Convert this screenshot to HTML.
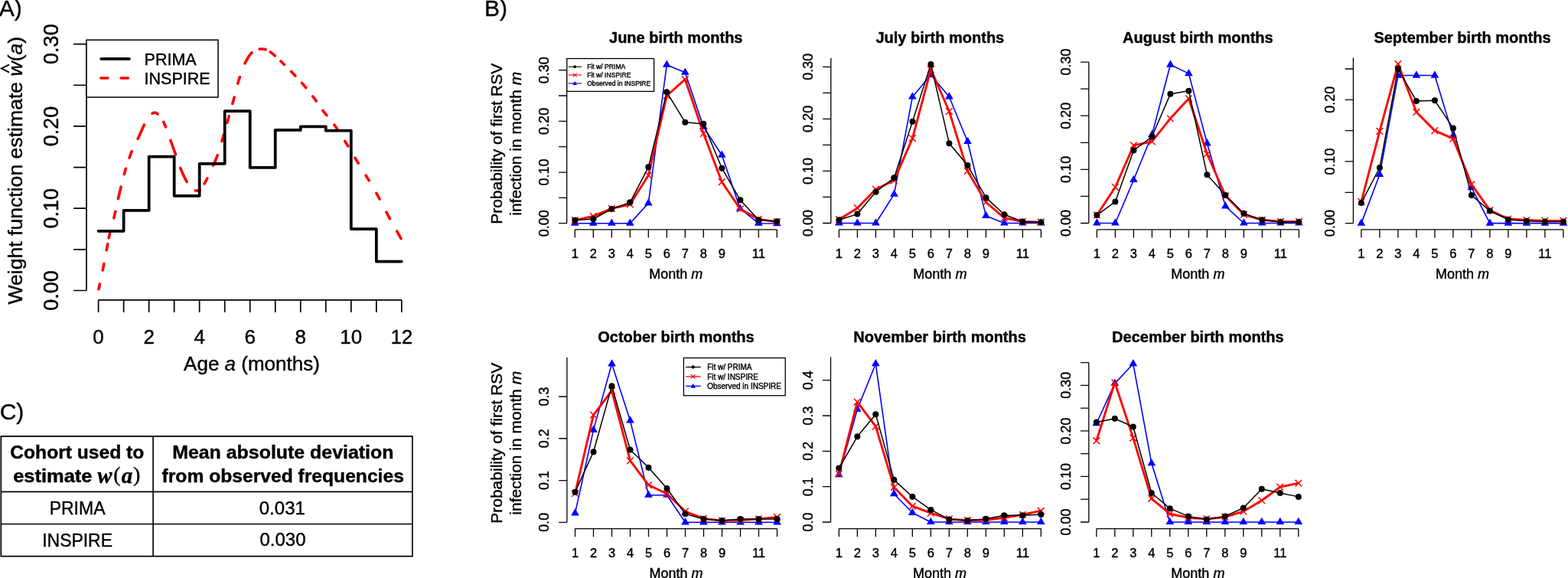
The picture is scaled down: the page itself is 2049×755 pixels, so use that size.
<!DOCTYPE html>
<html><head><meta charset="utf-8"><title>Figure</title>
<style>html,body{margin:0;padding:0;background:#fff;overflow:hidden}svg{display:block}text{font-family:"Liberation Sans", Arial, Helvetica, sans-serif;fill:#000;stroke:#000;stroke-width:0.4px}</style>
</head><body>
<svg width="2049" height="755" viewBox="0 0 2049 755">
<rect width="2049" height="755" fill="#fff"/>
<text x="-1.2" y="21" font-size="30">A)</text>
<text x="633" y="21" font-size="30">B)</text>
<text x="-0.3" y="548" font-size="30">C)</text>
<g>
<path d="M113 379.5V57.6M113 379.5H96.1M113 325.85H96.1M113 272.2H96.1M113 218.55H96.1M113 164.9H96.1M113 111.25H96.1M113 57.6H96.1" stroke="#000" stroke-width="1.7" fill="none"/>
<text x="76.2" y="379.5" font-size="27" text-anchor="middle" transform="rotate(-90 76.2 379.5)">0.00</text>
<text x="76.2" y="272.2" font-size="27" text-anchor="middle" transform="rotate(-90 76.2 272.2)">0.10</text>
<text x="76.2" y="164.9" font-size="27" text-anchor="middle" transform="rotate(-90 76.2 164.9)">0.20</text>
<text x="76.2" y="57.6" font-size="27" text-anchor="middle" transform="rotate(-90 76.2 57.6)">0.30</text>
<path d="M128.6 391.8H524.84M128.6 391.8V407.9M161.62 391.8V407.9M194.64 391.8V407.9M227.66 391.8V407.9M260.68 391.8V407.9M293.7 391.8V407.9M326.72 391.8V407.9M359.74 391.8V407.9M392.76 391.8V407.9M425.78 391.8V407.9M458.8 391.8V407.9M491.82 391.8V407.9M524.84 391.8V407.9" stroke="#000" stroke-width="1.7" fill="none"/>
<text x="128.6" y="449" font-size="26" text-anchor="middle">0</text>
<text x="194.64" y="449" font-size="26" text-anchor="middle">2</text>
<text x="260.68" y="449" font-size="26" text-anchor="middle">4</text>
<text x="326.72" y="449" font-size="26" text-anchor="middle">6</text>
<text x="392.76" y="449" font-size="26" text-anchor="middle">8</text>
<text x="458.8" y="449" font-size="26" text-anchor="middle">10</text>
<text x="524.84" y="449" font-size="26" text-anchor="middle">12</text>
<text x="329" y="484.1" font-size="26" text-anchor="middle">Age <tspan font-style="italic">a</tspan> (months)</text>
<text x="28.9" y="222.7" font-size="26.6" text-anchor="middle" transform="rotate(-90 28.9 222.7)">Weight function estimate <tspan font-style="italic">w</tspan>(<tspan font-style="italic">a</tspan>)</text>
<polyline points="12.1,84.3 1.9,89.45 12.1,94.6" fill="none" stroke="#000" stroke-width="1.9"/>
<path d="M128.97 377.74L129.12 377.02L129.34 375.99L129.57 374.88L129.83 373.69L130.09 372.42L130.37 371.09L130.4 370.96M134.15 353.04L134.41 351.76L134.69 350.4L134.95 349.09L135.2 347.85L135.44 346.64L135.68 345.44L135.85 344.57M139.2 326.63L139.23 326.46L139.42 325.45L139.6 324.45L139.79 323.47L139.97 322.51L140.16 321.56L140.34 320.63L140.51 319.73L140.68 318.86L140.69 318.77M142.22 310.83L142.31 310.38L142.46 309.65L142.61 308.92L142.76 308.18L142.92 307.43L143.08 306.68L143.25 305.91L143.42 305.13L143.6 304.33L143.79 303.51L143.99 302.67L144.04 302.45M148.82 284.66L149.06 283.75L149.31 282.77L149.56 281.78L149.8 280.78L150.04 279.78L150.28 278.76L150.52 277.73L150.75 276.69L150.85 276.26M154.43 259.64L154.56 259.09L154.81 257.95L155.07 256.8L155.34 255.65L155.61 254.5L155.88 253.33L156.16 252.16L156.44 250.97L156.72 249.78L157.01 248.57L157.3 247.35L157.59 246.13L157.88 244.9L158.06 244.15M162.3 227.56L162.58 226.58L162.91 225.42L163.24 224.27L163.58 223.11L163.92 221.96L164.27 220.81L164.42 220.32M169.01 206.2L169.35 205.23L169.73 204.19L170.1 203.17L170.47 202.16L170.85 201.17L171.22 200.19L171.59 199.24L171.97 198.3L172.23 197.66M180.12 181.28L180.4 180.71L180.77 179.92L181.14 179.12L181.52 178.31L181.89 177.49L182.26 176.66L182.63 175.83L183.01 174.99L183.38 174.16L183.75 173.32L184.12 172.48L184.48 171.64L184.85 170.81L185.22 169.98L185.58 169.16L185.95 168.35L186.31 167.55L186.67 166.76L187.03 165.98L187.39 165.22L187.74 164.47L188.09 163.75L188.45 163.04L188.47 163M199.05 148.16L199.11 148.12L199.35 147.97L199.59 147.84L199.83 147.72L200.06 147.61L200.29 147.52L200.51 147.44L200.74 147.37L200.96 147.31L201.18 147.27L201.4 147.23L201.61 147.2L201.83 147.19L202.04 147.17L202.26 147.17L202.47 147.17L202.68 147.18L202.89 147.2L203.11 147.22L203.31 147.25L203.52 147.3L203.72 147.36L203.91 147.43L204.11 147.51L204.3 147.6L204.49 147.7L204.68 147.82L204.86 147.94L205.05 148.07L205.23 148.21L205.42 148.36L205.6 148.51L205.79 148.67L205.97 148.84L206.09 148.96M213.71 159.37L213.82 159.59L213.99 159.95L214.16 160.31L214.34 160.68L214.51 161.05L214.68 161.42L214.85 161.8L215.02 162.19L215.19 162.58L215.36 162.99L215.53 163.4L215.7 163.82L215.88 164.25L216.06 164.68L216.24 165.13L216.42 165.59L216.52 165.85M222.86 183.43L223.07 184.04L223.38 184.9L223.7 185.78L224.02 186.68L224.35 187.6L224.69 188.53L225.03 189.48L225.37 190.44L225.71 191.4L226.06 192.36L226.41 193.33L226.75 194.29L227.1 195.24L227.43 196.19L227.77 197.13L228.1 198.05L228.42 198.95L228.74 199.83L229.05 200.69L229.34 201.53L229.47 201.89M235.74 219.46L235.95 219.99L236.16 220.52L236.37 221.05L236.59 221.58L236.8 222.1L237.01 222.62L237.22 223.13L237.44 223.63L237.65 224.14L237.86 224.63L238.07 225.13L238.29 225.62L238.5 226.1L238.71 226.58L238.92 227.06L239.14 227.53L239.35 227.99L239.57 228.46L239.78 228.91L239.99 229.37L240.21 229.82L240.42 230.26L240.63 230.7L240.85 231.14L241.06 231.57L241.27 231.99L241.48 232.41L241.69 232.83L241.9 233.24L242.11 233.65L242.32 234.05L242.53 234.45L242.74 234.84L242.95 235.23L243.17 235.61L243.38 236L243.6 236.37L243.81 236.75L244.03 237.12L244.25 237.47M255.3 248.8L255.4 248.84L255.65 248.92L255.89 248.98L256.14 249.03L256.39 249.08L256.64 249.11L256.88 249.13L257.13 249.14L257.38 249.13L257.62 249.12L257.87 249.1L258.11 249.08L258.35 249.05L258.59 249.01L258.83 248.97L259.06 248.92L259.3 248.86L259.54 248.78L259.78 248.7L260.01 248.61L260.25 248.5L260.49 248.38L260.74 248.24L260.98 248.09L261.14 247.99M267.18 239.83L267.33 239.56L267.65 238.96L267.98 238.36L268.3 237.75L268.62 237.14L268.94 236.53L269.26 235.92L269.58 235.31L269.89 234.71L270.21 234.11L270.51 233.51L270.79 232.99M278.7 216.05L278.95 215.46L279.25 214.78L279.54 214.1L279.84 213.42L280.14 212.74L280.43 212.05L280.73 211.35L281.03 210.66L281.32 209.96L281.61 209.26L281.9 208.55L282.19 207.85L282.48 207.14L282.77 206.42L283.05 205.71L283.33 204.99L283.61 204.27L283.88 203.55L284.16 202.83L284.22 202.66M289.93 184.49L290.07 184.03L290.3 183.25L290.53 182.46L290.76 181.67L290.99 180.88L291.22 180.09L291.45 179.29L291.68 178.48L291.91 177.68L292.14 176.87L292.37 176.06L292.43 175.85M296.82 160.33L296.98 159.75L297.22 158.93L297.46 158.11L297.7 157.29L297.93 156.47L298.17 155.65L298.41 154.83L298.64 154.01L298.88 153.19L299.12 152.38L299.26 151.86M303.89 135.42L304.04 134.89L304.23 134.17L304.43 133.45L304.62 132.73L304.82 132L305.02 131.27L305.22 130.53L305.42 129.78L305.63 129.03L305.83 128.26L306.04 127.49L306.17 126.98M310.75 109.12L310.81 108.93L311.04 108.09L311.29 107.25L311.53 106.42L311.78 105.59L312.03 104.77L312.28 103.93L312.53 103.1L312.79 102.26L313.04 101.43L313.3 100.59L313.33 100.5M320.07 82.82L320.08 82.8L320.43 82.09L320.79 81.39L321.14 80.7L321.5 80.01L321.86 79.34L322.22 78.67L322.58 78.02L322.95 77.37L323.31 76.75L323.66 76.13L324.02 75.53L324.37 74.95L324.72 74.39L325.07 73.84L325.41 73.32L325.74 72.81L326.07 72.33L326.39 71.87L326.7 71.44L327.01 71.02L327.32 70.63L327.62 70.26L327.92 69.91L328.21 69.57L328.5 69.26L328.79 68.96L329.01 68.74M339.19 64.11L339.35 64.1L339.66 64.08L339.97 64.06L340.28 64.05L340.59 64.04L340.9 64.03L341.21 64.02L341.52 64.02L341.83 64.02L342.15 64.02L342.46 64.03L342.78 64.04L343.09 64.06L343.41 64.08L343.72 64.1L344.04 64.14L344.36 64.17L344.67 64.21L344.99 64.26L345.31 64.32L345.63 64.38L345.95 64.44L346.27 64.52L346.59 64.6L346.91 64.68L347.09 64.74M353.28 67.93L353.35 67.98L353.68 68.22L354.03 68.48L354.38 68.74L354.74 69.02L355.12 69.31L355.51 69.62L355.91 69.94L356.32 70.27L356.75 70.62L357.18 70.98L357.62 71.35L358.06 71.73L358.52 72.13L358.98 72.54L359.3 72.82M366.98 79.99L367.24 80.24L367.8 80.78L368.36 81.32L368.93 81.87L369.52 82.44L370.11 83.02L370.71 83.6L371.32 84.2L371.49 84.37M380.51 93.43L380.83 93.76L381.45 94.41L382.07 95.05L382.69 95.69L383.3 96.33L383.91 96.97L384.53 97.61L385.14 98.26L385.75 98.9L385.84 98.99M394.39 108.25L394.84 108.76L395.43 109.43L396.02 110.11L396.6 110.78L397.18 111.46L397.76 112.15L398.34 112.83L398.92 113.52L399.49 114.21L399.73 114.5M408.62 125.81L408.95 126.24L409.5 126.96L410.04 127.69L410.59 128.42L411.14 129.15L411.68 129.88L412.22 130.62L412.75 131.36L413.15 131.92M421.87 144.29L422.34 144.94L422.9 145.69L423.47 146.44L424.04 147.19L424.62 147.94L425.2 148.68L425.78 149.41L426.37 150.14L426.79 150.65M436.83 163.1L437.29 163.74L437.9 164.58L438.5 165.44L439.11 166.31L439.72 167.19L440.34 168.09L440.46 168.27M450.69 184.28L450.75 184.36L451.34 185.32L451.94 186.27L452.53 187.22L453.11 188.16L453.69 189.1L454.27 190.04L454.71 190.76M463.98 206.29L464.36 206.94L464.93 207.88L465.49 208.81L466.06 209.75L466.64 210.69L467.21 211.62L467.78 212.55L468.19 213.21M478.14 229.21L478.2 229.31L478.78 230.26L479.35 231.22L479.93 232.18L480.51 233.14L481.09 234.11L481.67 235.07L482.08 235.75M491.82 252.36L492.12 252.87L492.68 253.88L493.24 254.88L493.8 255.89L494.36 256.9L494.9 257.91L495.45 258.92L495.99 259.93L496.03 260.02M504.87 277.18L505 277.42L505.55 278.46L506.11 279.52L506.68 280.57L507.26 281.64L507.87 282.75L508.49 283.89L509.13 285.05L509.45 285.62M518.65 301.98L518.86 302.37L519.4 303.31L519.9 304.21L520.37 305.04L520.81 305.82L521.21 306.54L521.57 307.19L521.9 307.79L522.21 308.34L522.49 308.84L522.74 309.3L522.97 309.71L523.17 310.09L523.36 310.43L523.53 310.74L523.68 311.01L523.81 311.26L523.93 311.49L523.99 311.6" stroke="#f00" stroke-width="3.6" fill="none" stroke-linecap="round" stroke-linejoin="round"/>
<path d="M128.6 301.81H161.62V274.99H194.64V204.6H227.66V255.78H260.68V213.83H293.7V145.16H326.72V218.98H359.74V169.94H392.76V165.44H425.78V170.69H458.8V299.02H491.82V341.62H524.84" stroke="#000" stroke-width="3.75" fill="none" stroke-linejoin="round" stroke-linecap="round"/>
<rect x="113" y="52.2" width="172" height="74.8" fill="#fff" stroke="#000" stroke-width="1.5"/>
<line x1="132.1" y1="76.9" x2="169" y2="76.9" stroke="#000" stroke-width="3.6" stroke-linecap="round"/>
<line x1="131.8" y1="102.1" x2="167.3" y2="102.1" stroke="#f00" stroke-width="3.5" stroke-linecap="round" stroke-dasharray="9.2 17.1"/>
<text x="188.6" y="84.7" font-size="21.5">PRIMA</text>
<text x="188.6" y="110" font-size="21.5">INSPIRE</text>
</g>
<g>
<text x="883.26" y="55.8" font-size="20" font-weight="bold" text-anchor="middle">June birth months</text>
<path d="M751.3 299.9H1015.3M751.3 299.9V310.6M775.3 299.9V310.6M799.3 299.9V310.6M823.3 299.9V310.6M847.3 299.9V310.6M871.3 299.9V310.6M895.3 299.9V310.6M919.3 299.9V310.6M943.3 299.9V310.6M967.3 299.9V310.6M991.3 299.9V310.6M1015.3 299.9V310.6" stroke="#000" stroke-width="1.3" fill="none"/>
<text x="751.3" y="337" font-size="16.5" text-anchor="middle">1</text>
<text x="775.3" y="337" font-size="16.5" text-anchor="middle">2</text>
<text x="799.3" y="337" font-size="16.5" text-anchor="middle">3</text>
<text x="823.3" y="337" font-size="16.5" text-anchor="middle">4</text>
<text x="847.3" y="337" font-size="16.5" text-anchor="middle">5</text>
<text x="871.3" y="337" font-size="16.5" text-anchor="middle">6</text>
<text x="895.3" y="337" font-size="16.5" text-anchor="middle">7</text>
<text x="919.3" y="337" font-size="16.5" text-anchor="middle">8</text>
<text x="943.3" y="337" font-size="16.5" text-anchor="middle">9</text>
<text x="991.3" y="337" font-size="16.5" text-anchor="middle">11</text>
<text x="883.26" y="363.9" font-size="18" text-anchor="middle">Month <tspan font-style="italic">m</tspan></text>
<path d="M740.7 291.7V91.69M740.7 291.7H730M740.7 258.37H730M740.7 225.03H730M740.7 191.69H730M740.7 158.36H730M740.7 125.02H730M740.7 91.69H730" stroke="#000" stroke-width="1.3" fill="none"/>
<text x="716.8" y="291.7" font-size="18" text-anchor="middle" transform="rotate(-90 716.8 291.7)">0.00</text>
<text x="716.8" y="225.03" font-size="18" text-anchor="middle" transform="rotate(-90 716.8 225.03)">0.10</text>
<text x="716.8" y="158.36" font-size="18" text-anchor="middle" transform="rotate(-90 716.8 158.36)">0.20</text>
<text x="716.8" y="91.69" font-size="18" text-anchor="middle" transform="rotate(-90 716.8 91.69)">0.30</text>
<polyline points="751.3,291.7 775.3,291.7 799.3,291.7 823.3,291.7 847.3,265.4 871.3,84.66 895.3,94.72 919.3,165.73 943.3,202.73 967.3,272.73 991.3,291.7 1015.3,292.07" fill="none" stroke="#00f" stroke-width="1.6" stroke-linejoin="round"/>
<path d="M751.3 285.5L756.67 294.8L745.93 294.8ZM775.3 285.5L780.67 294.8L769.93 294.8ZM799.3 285.5L804.67 294.8L793.93 294.8ZM823.3 285.5L828.67 294.8L817.93 294.8ZM847.3 259.2L852.67 268.5L841.93 268.5ZM871.3 78.46L876.67 87.76L865.93 87.76ZM895.3 88.52L900.67 97.82L889.93 97.82ZM919.3 159.53L924.67 168.83L913.93 168.83ZM943.3 196.53L948.67 205.83L937.93 205.83ZM967.3 266.53L972.67 275.83L961.93 275.83ZM991.3 285.5L996.67 294.8L985.93 294.8ZM1015.3 285.87L1020.67 295.17L1009.93 295.17Z" fill="#00f"/>
<polyline points="751.3,287.7 775.3,282.37 799.3,272.37 823.3,267.03 847.3,229.03 871.3,125.02 895.3,103.69 919.3,174.36 943.3,237.7 967.3,273.03 991.3,286.37 1015.3,289.7" fill="none" stroke="#f00" stroke-width="2.9" stroke-linejoin="round" stroke-linecap="round"/>
<path d="M747 283.4L755.6 292M747 292L755.6 283.4M771 278.07L779.6 286.67M771 286.67L779.6 278.07M795 268.07L803.6 276.67M795 276.67L803.6 268.07M819 262.73L827.6 271.33M819 271.33L827.6 262.73M843 224.73L851.6 233.33M843 233.33L851.6 224.73M867 120.72L875.6 129.32M867 129.32L875.6 120.72M891 99.39L899.6 107.99M891 107.99L899.6 99.39M915 170.06L923.6 178.66M915 178.66L923.6 170.06M939 233.4L947.6 242M939 242L947.6 233.4M963 268.73L971.6 277.33M963 277.33L971.6 268.73M987 282.07L995.6 290.67M987 290.67L995.6 282.07M1011 285.4L1019.6 294M1011 294L1019.6 285.4" fill="none" stroke="#f00" stroke-width="1.5"/>
<polyline points="751.3,287.7 775.3,285.97 799.3,273.03 823.3,264.37 847.3,218.36 871.3,120.36 895.3,159.69 919.3,161.69 943.3,219.7 967.3,261.3 991.3,287.23 1015.3,289.3" fill="none" stroke="#000" stroke-width="1.5" stroke-linejoin="round"/>
<circle cx="751.3" cy="287.7" r="4" fill="#000"/>
<circle cx="775.3" cy="285.97" r="4" fill="#000"/>
<circle cx="799.3" cy="273.03" r="4" fill="#000"/>
<circle cx="823.3" cy="264.37" r="4" fill="#000"/>
<circle cx="847.3" cy="218.36" r="4" fill="#000"/>
<circle cx="871.3" cy="120.36" r="4" fill="#000"/>
<circle cx="895.3" cy="159.69" r="4" fill="#000"/>
<circle cx="919.3" cy="161.69" r="4" fill="#000"/>
<circle cx="943.3" cy="219.7" r="4" fill="#000"/>
<circle cx="967.3" cy="261.3" r="4" fill="#000"/>
<circle cx="991.3" cy="287.23" r="4" fill="#000"/>
<circle cx="1015.3" cy="289.3" r="4" fill="#000"/>
</g>
<g>
<text x="1228.36" y="55.8" font-size="20" font-weight="bold" text-anchor="middle">July birth months</text>
<path d="M1096.4 299.9H1360.4M1096.4 299.9V310.6M1120.4 299.9V310.6M1144.4 299.9V310.6M1168.4 299.9V310.6M1192.4 299.9V310.6M1216.4 299.9V310.6M1240.4 299.9V310.6M1264.4 299.9V310.6M1288.4 299.9V310.6M1312.4 299.9V310.6M1336.4 299.9V310.6M1360.4 299.9V310.6" stroke="#000" stroke-width="1.3" fill="none"/>
<text x="1096.4" y="337" font-size="16.5" text-anchor="middle">1</text>
<text x="1120.4" y="337" font-size="16.5" text-anchor="middle">2</text>
<text x="1144.4" y="337" font-size="16.5" text-anchor="middle">3</text>
<text x="1168.4" y="337" font-size="16.5" text-anchor="middle">4</text>
<text x="1192.4" y="337" font-size="16.5" text-anchor="middle">5</text>
<text x="1216.4" y="337" font-size="16.5" text-anchor="middle">6</text>
<text x="1240.4" y="337" font-size="16.5" text-anchor="middle">7</text>
<text x="1264.4" y="337" font-size="16.5" text-anchor="middle">8</text>
<text x="1288.4" y="337" font-size="16.5" text-anchor="middle">9</text>
<text x="1336.4" y="337" font-size="16.5" text-anchor="middle">11</text>
<text x="1228.36" y="363.9" font-size="18" text-anchor="middle">Month <tspan font-style="italic">m</tspan></text>
<path d="M1085.8 291.5V75.7M1085.8 291.5H1075.1M1085.8 257.46H1075.1M1085.8 223.43H1075.1M1085.8 189.39H1075.1M1085.8 155.36H1075.1M1085.8 121.32H1075.1M1085.8 87.29H1075.1" stroke="#000" stroke-width="1.3" fill="none"/>
<text x="1061.9" y="291.5" font-size="18" text-anchor="middle" transform="rotate(-90 1061.9 291.5)">0.00</text>
<text x="1061.9" y="223.43" font-size="18" text-anchor="middle" transform="rotate(-90 1061.9 223.43)">0.10</text>
<text x="1061.9" y="155.36" font-size="18" text-anchor="middle" transform="rotate(-90 1061.9 155.36)">0.20</text>
<text x="1061.9" y="87.29" font-size="18" text-anchor="middle" transform="rotate(-90 1061.9 87.29)">0.30</text>
<polyline points="1096.4,291.5 1120.4,291.5 1144.4,291.5 1168.4,253.72 1192.4,126.43 1216.4,97.84 1240.4,126.43 1264.4,184.97 1288.4,281.9 1312.4,291.5 1336.4,291.5 1360.4,291.5" fill="none" stroke="#00f" stroke-width="1.6" stroke-linejoin="round"/>
<path d="M1096.4 285.3L1101.77 294.6L1091.03 294.6ZM1120.4 285.3L1125.77 294.6L1115.03 294.6ZM1144.4 285.3L1149.77 294.6L1139.03 294.6ZM1168.4 247.52L1173.77 256.82L1163.03 256.82ZM1192.4 120.23L1197.77 129.53L1187.03 129.53ZM1216.4 91.64L1221.77 100.94L1211.03 100.94ZM1240.4 120.23L1245.77 129.53L1235.03 129.53ZM1264.4 178.77L1269.77 188.07L1259.03 188.07ZM1288.4 275.7L1293.77 285L1283.03 285ZM1312.4 285.3L1317.77 294.6L1307.03 294.6ZM1336.4 285.3L1341.77 294.6L1331.03 294.6ZM1360.4 285.3L1365.77 294.6L1355.03 294.6Z" fill="#00f"/>
<polyline points="1096.4,286.74 1120.4,271.76 1144.4,247.25 1168.4,235.68 1192.4,180.55 1216.4,90.69 1240.4,145.49 1264.4,223.43 1288.4,264.27 1312.4,284.69 1336.4,289.46 1360.4,290.14" fill="none" stroke="#f00" stroke-width="2.9" stroke-linejoin="round" stroke-linecap="round"/>
<path d="M1092.1 282.44L1100.7 291.04M1092.1 291.04L1100.7 282.44M1116.1 267.46L1124.7 276.06M1116.1 276.06L1124.7 267.46M1140.1 242.95L1148.7 251.55M1140.1 251.55L1148.7 242.95M1164.1 231.38L1172.7 239.98M1164.1 239.98L1172.7 231.38M1188.1 176.25L1196.7 184.85M1188.1 184.85L1196.7 176.25M1212.1 86.39L1220.7 94.99M1212.1 94.99L1220.7 86.39M1236.1 141.19L1244.7 149.79M1236.1 149.79L1244.7 141.19M1260.1 219.13L1268.7 227.73M1260.1 227.73L1268.7 219.13M1284.1 259.97L1292.7 268.57M1284.1 268.57L1292.7 259.97M1308.1 280.39L1316.7 288.99M1308.1 288.99L1316.7 280.39M1332.1 285.16L1340.7 293.76M1332.1 293.76L1340.7 285.16M1356.1 285.84L1364.7 294.44M1356.1 294.44L1364.7 285.84" fill="none" stroke="#f00" stroke-width="1.5"/>
<polyline points="1096.4,287.21 1120.4,279.59 1144.4,250.66 1168.4,232.28 1192.4,158.76 1216.4,83.89 1240.4,187.35 1264.4,215.94 1288.4,258.15 1312.4,280.2 1336.4,289.46 1360.4,290.14" fill="none" stroke="#000" stroke-width="1.5" stroke-linejoin="round"/>
<circle cx="1096.4" cy="287.21" r="4" fill="#000"/>
<circle cx="1120.4" cy="279.59" r="4" fill="#000"/>
<circle cx="1144.4" cy="250.66" r="4" fill="#000"/>
<circle cx="1168.4" cy="232.28" r="4" fill="#000"/>
<circle cx="1192.4" cy="158.76" r="4" fill="#000"/>
<circle cx="1216.4" cy="83.89" r="4" fill="#000"/>
<circle cx="1240.4" cy="187.35" r="4" fill="#000"/>
<circle cx="1264.4" cy="215.94" r="4" fill="#000"/>
<circle cx="1288.4" cy="258.15" r="4" fill="#000"/>
<circle cx="1312.4" cy="280.2" r="4" fill="#000"/>
<circle cx="1336.4" cy="289.46" r="4" fill="#000"/>
<circle cx="1360.4" cy="290.14" r="4" fill="#000"/>
</g>
<g>
<text x="1565.36" y="55.8" font-size="20" font-weight="bold" text-anchor="middle">August birth months</text>
<path d="M1433.4 299.9H1697.4M1433.4 299.9V310.6M1457.4 299.9V310.6M1481.4 299.9V310.6M1505.4 299.9V310.6M1529.4 299.9V310.6M1553.4 299.9V310.6M1577.4 299.9V310.6M1601.4 299.9V310.6M1625.4 299.9V310.6M1649.4 299.9V310.6M1673.4 299.9V310.6M1697.4 299.9V310.6" stroke="#000" stroke-width="1.3" fill="none"/>
<text x="1433.4" y="337" font-size="16.5" text-anchor="middle">1</text>
<text x="1457.4" y="337" font-size="16.5" text-anchor="middle">2</text>
<text x="1481.4" y="337" font-size="16.5" text-anchor="middle">3</text>
<text x="1505.4" y="337" font-size="16.5" text-anchor="middle">4</text>
<text x="1529.4" y="337" font-size="16.5" text-anchor="middle">5</text>
<text x="1553.4" y="337" font-size="16.5" text-anchor="middle">6</text>
<text x="1577.4" y="337" font-size="16.5" text-anchor="middle">7</text>
<text x="1601.4" y="337" font-size="16.5" text-anchor="middle">8</text>
<text x="1625.4" y="337" font-size="16.5" text-anchor="middle">9</text>
<text x="1673.4" y="337" font-size="16.5" text-anchor="middle">11</text>
<text x="1565.36" y="363.9" font-size="18" text-anchor="middle">Month <tspan font-style="italic">m</tspan></text>
<path d="M1422.8 291.5V81.08M1422.8 291.5H1412.1M1422.8 256.43H1412.1M1422.8 221.36H1412.1M1422.8 186.29H1412.1M1422.8 151.22H1412.1M1422.8 116.15H1412.1M1422.8 81.08H1412.1" stroke="#000" stroke-width="1.3" fill="none"/>
<text x="1398.9" y="291.5" font-size="18" text-anchor="middle" transform="rotate(-90 1398.9 291.5)">0.00</text>
<text x="1398.9" y="221.36" font-size="18" text-anchor="middle" transform="rotate(-90 1398.9 221.36)">0.10</text>
<text x="1398.9" y="151.22" font-size="18" text-anchor="middle" transform="rotate(-90 1398.9 151.22)">0.20</text>
<text x="1398.9" y="81.08" font-size="18" text-anchor="middle" transform="rotate(-90 1398.9 81.08)">0.30</text>
<polyline points="1433.4,291.5 1457.4,291.5 1481.4,234.98 1505.4,176.07 1529.4,84.53 1553.4,96.11 1577.4,187.29 1601.4,269.35 1625.4,291.5 1649.4,291.5 1673.4,291.5 1697.4,291.5" fill="none" stroke="#00f" stroke-width="1.6" stroke-linejoin="round"/>
<path d="M1433.4 285.3L1438.77 294.6L1428.03 294.6ZM1457.4 285.3L1462.77 294.6L1452.03 294.6ZM1481.4 228.78L1486.77 238.08L1476.03 238.08ZM1505.4 169.87L1510.77 179.17L1500.03 179.17ZM1529.4 78.33L1534.77 87.63L1524.03 87.63ZM1553.4 89.91L1558.77 99.21L1548.03 99.21ZM1577.4 181.09L1582.77 190.39L1572.03 190.39ZM1601.4 263.15L1606.77 272.45L1596.03 272.45ZM1625.4 285.3L1630.77 294.6L1620.03 294.6ZM1649.4 285.3L1654.77 294.6L1644.03 294.6ZM1673.4 285.3L1678.77 294.6L1668.03 294.6ZM1697.4 285.3L1702.77 294.6L1692.03 294.6Z" fill="#00f"/>
<polyline points="1433.4,280.98 1457.4,244.51 1481.4,189.8 1505.4,184.89 1529.4,154.73 1553.4,128.78 1577.4,201.02 1601.4,255.73 1625.4,280.28 1649.4,287.29 1673.4,289.4 1697.4,289.4" fill="none" stroke="#f00" stroke-width="2.9" stroke-linejoin="round" stroke-linecap="round"/>
<path d="M1429.1 276.68L1437.7 285.28M1429.1 285.28L1437.7 276.68M1453.1 240.21L1461.7 248.81M1453.1 248.81L1461.7 240.21M1477.1 185.5L1485.7 194.1M1477.1 194.1L1485.7 185.5M1501.1 180.59L1509.7 189.19M1501.1 189.19L1509.7 180.59M1525.1 150.43L1533.7 159.03M1525.1 159.03L1533.7 150.43M1549.1 124.48L1557.7 133.08M1549.1 133.08L1557.7 124.48M1573.1 196.72L1581.7 205.32M1573.1 205.32L1581.7 196.72M1597.1 251.43L1605.7 260.03M1597.1 260.03L1605.7 251.43M1621.1 275.98L1629.7 284.58M1621.1 284.58L1629.7 275.98M1645.1 282.99L1653.7 291.59M1645.1 291.59L1653.7 282.99M1669.1 285.1L1677.7 293.7M1669.1 293.7L1677.7 285.1M1693.1 285.1L1701.7 293.7M1693.1 293.7L1701.7 285.1" fill="none" stroke="#f00" stroke-width="1.5"/>
<polyline points="1433.4,281.12 1457.4,263.44 1481.4,196.39 1505.4,178.57 1529.4,122.67 1553.4,118.68 1577.4,228.37 1601.4,255.03 1625.4,278.87 1649.4,287.29 1673.4,290.1 1697.4,290.1" fill="none" stroke="#000" stroke-width="1.5" stroke-linejoin="round"/>
<circle cx="1433.4" cy="281.12" r="4" fill="#000"/>
<circle cx="1457.4" cy="263.44" r="4" fill="#000"/>
<circle cx="1481.4" cy="196.39" r="4" fill="#000"/>
<circle cx="1505.4" cy="178.57" r="4" fill="#000"/>
<circle cx="1529.4" cy="122.67" r="4" fill="#000"/>
<circle cx="1553.4" cy="118.68" r="4" fill="#000"/>
<circle cx="1577.4" cy="228.37" r="4" fill="#000"/>
<circle cx="1601.4" cy="255.03" r="4" fill="#000"/>
<circle cx="1625.4" cy="278.87" r="4" fill="#000"/>
<circle cx="1649.4" cy="287.29" r="4" fill="#000"/>
<circle cx="1673.4" cy="290.1" r="4" fill="#000"/>
<circle cx="1697.4" cy="290.1" r="4" fill="#000"/>
</g>
<g>
<text x="1910.96" y="55.8" font-size="20" font-weight="bold" text-anchor="middle">September birth months</text>
<path d="M1778.9 299.9H2042.9M1778.9 299.9V310.6M1802.9 299.9V310.6M1826.9 299.9V310.6M1850.9 299.9V310.6M1874.9 299.9V310.6M1898.9 299.9V310.6M1922.9 299.9V310.6M1946.9 299.9V310.6M1970.9 299.9V310.6M1994.9 299.9V310.6M2018.9 299.9V310.6M2042.9 299.9V310.6" stroke="#000" stroke-width="1.3" fill="none"/>
<text x="1778.9" y="337" font-size="16.5" text-anchor="middle">1</text>
<text x="1802.9" y="337" font-size="16.5" text-anchor="middle">2</text>
<text x="1826.9" y="337" font-size="16.5" text-anchor="middle">3</text>
<text x="1850.9" y="337" font-size="16.5" text-anchor="middle">4</text>
<text x="1874.9" y="337" font-size="16.5" text-anchor="middle">5</text>
<text x="1898.9" y="337" font-size="16.5" text-anchor="middle">6</text>
<text x="1922.9" y="337" font-size="16.5" text-anchor="middle">7</text>
<text x="1946.9" y="337" font-size="16.5" text-anchor="middle">8</text>
<text x="1970.9" y="337" font-size="16.5" text-anchor="middle">9</text>
<text x="2018.9" y="337" font-size="16.5" text-anchor="middle">11</text>
<text x="1910.96" y="363.9" font-size="18" text-anchor="middle">Month <tspan font-style="italic">m</tspan></text>
<path d="M1768.4 291.6V75.5M1768.4 291.6H1757.7M1768.4 251.28H1757.7M1768.4 210.96H1757.7M1768.4 170.64H1757.7M1768.4 130.32H1757.7M1768.4 90H1757.7" stroke="#000" stroke-width="1.3" fill="none"/>
<text x="1744.5" y="291.6" font-size="18" text-anchor="middle" transform="rotate(-90 1744.5 291.6)">0.00</text>
<text x="1744.5" y="210.96" font-size="18" text-anchor="middle" transform="rotate(-90 1744.5 210.96)">0.10</text>
<text x="1744.5" y="130.32" font-size="18" text-anchor="middle" transform="rotate(-90 1744.5 130.32)">0.20</text>
<polyline points="1778.9,291.6 1802.9,227.98 1826.9,98.55 1850.9,98.55 1874.9,98.55 1898.9,177.42 1922.9,244.92 1946.9,291.6 1970.9,291.6 1994.9,291.6 2018.9,291.6 2042.9,291.6" fill="none" stroke="#00f" stroke-width="1.6" stroke-linejoin="round"/>
<path d="M1778.9 285.4L1784.27 294.7L1773.53 294.7ZM1802.9 221.78L1808.27 231.08L1797.53 231.08ZM1826.9 92.35L1832.27 101.65L1821.53 101.65ZM1850.9 92.35L1856.27 101.65L1845.53 101.65ZM1874.9 92.35L1880.27 101.65L1869.53 101.65ZM1898.9 171.22L1904.27 180.52L1893.53 180.52ZM1922.9 238.72L1928.27 248.02L1917.53 248.02ZM1946.9 285.4L1952.27 294.7L1941.53 294.7ZM1970.9 285.4L1976.27 294.7L1965.53 294.7ZM1994.9 285.4L2000.27 294.7L1989.53 294.7ZM2018.9 285.4L2024.27 294.7L2013.53 294.7ZM2042.9 285.4L2048.27 294.7L2037.53 294.7Z" fill="#00f"/>
<polyline points="1778.9,263.38 1802.9,171.45 1826.9,83.55 1850.9,146.45 1874.9,170.64 1898.9,181.12 1922.9,240.8 1946.9,274.67 1970.9,285.96 1994.9,287.57 2018.9,288.37 2042.9,288.37" fill="none" stroke="#f00" stroke-width="2.9" stroke-linejoin="round" stroke-linecap="round"/>
<path d="M1774.6 259.08L1783.2 267.68M1774.6 267.68L1783.2 259.08M1798.6 167.15L1807.2 175.75M1798.6 175.75L1807.2 167.15M1822.6 79.25L1831.2 87.85M1822.6 87.85L1831.2 79.25M1846.6 142.15L1855.2 150.75M1846.6 150.75L1855.2 142.15M1870.6 166.34L1879.2 174.94M1870.6 174.94L1879.2 166.34M1894.6 176.82L1903.2 185.42M1894.6 185.42L1903.2 176.82M1918.6 236.5L1927.2 245.1M1918.6 245.1L1927.2 236.5M1942.6 270.37L1951.2 278.97M1942.6 278.97L1951.2 270.37M1966.6 281.66L1975.2 290.26M1966.6 290.26L1975.2 281.66M1990.6 283.27L1999.2 291.87M1990.6 291.87L1999.2 283.27M2014.6 284.07L2023.2 292.67M2014.6 292.67L2023.2 284.07M2038.6 284.07L2047.2 292.67M2038.6 292.67L2047.2 284.07" fill="none" stroke="#f00" stroke-width="1.5"/>
<polyline points="1778.9,264.99 1802.9,219.02 1826.9,90 1850.9,131.93 1874.9,131.13 1898.9,167.41 1922.9,254.91 1946.9,275.47 1970.9,286.76 1994.9,288.78 2018.9,289.58 2042.9,289.58" fill="none" stroke="#000" stroke-width="1.5" stroke-linejoin="round"/>
<circle cx="1778.9" cy="264.99" r="4" fill="#000"/>
<circle cx="1802.9" cy="219.02" r="4" fill="#000"/>
<circle cx="1826.9" cy="90" r="4" fill="#000"/>
<circle cx="1850.9" cy="131.93" r="4" fill="#000"/>
<circle cx="1874.9" cy="131.13" r="4" fill="#000"/>
<circle cx="1898.9" cy="167.41" r="4" fill="#000"/>
<circle cx="1922.9" cy="254.91" r="4" fill="#000"/>
<circle cx="1946.9" cy="275.47" r="4" fill="#000"/>
<circle cx="1970.9" cy="286.76" r="4" fill="#000"/>
<circle cx="1994.9" cy="288.78" r="4" fill="#000"/>
<circle cx="2018.9" cy="289.58" r="4" fill="#000"/>
<circle cx="2042.9" cy="289.58" r="4" fill="#000"/>
</g>
<g>
<text x="883.46" y="446.7" font-size="20" font-weight="bold" text-anchor="middle">October birth months</text>
<path d="M751.5 690.6H1015.5M751.5 690.6V701.3M775.5 690.6V701.3M799.5 690.6V701.3M823.5 690.6V701.3M847.5 690.6V701.3M871.5 690.6V701.3M895.5 690.6V701.3M919.5 690.6V701.3M943.5 690.6V701.3M967.5 690.6V701.3M991.5 690.6V701.3M1015.5 690.6V701.3" stroke="#000" stroke-width="1.3" fill="none"/>
<text x="751.5" y="727.9" font-size="16.5" text-anchor="middle">1</text>
<text x="775.5" y="727.9" font-size="16.5" text-anchor="middle">2</text>
<text x="799.5" y="727.9" font-size="16.5" text-anchor="middle">3</text>
<text x="823.5" y="727.9" font-size="16.5" text-anchor="middle">4</text>
<text x="847.5" y="727.9" font-size="16.5" text-anchor="middle">5</text>
<text x="871.5" y="727.9" font-size="16.5" text-anchor="middle">6</text>
<text x="895.5" y="727.9" font-size="16.5" text-anchor="middle">7</text>
<text x="919.5" y="727.9" font-size="16.5" text-anchor="middle">8</text>
<text x="943.5" y="727.9" font-size="16.5" text-anchor="middle">9</text>
<text x="991.5" y="727.9" font-size="16.5" text-anchor="middle">11</text>
<text x="883.46" y="754.8" font-size="18" text-anchor="middle">Month <tspan font-style="italic">m</tspan></text>
<path d="M740.9 682.3V466.8M740.9 682.3H730.2M740.9 627.53H730.2M740.9 572.76H730.2M740.9 517.99H730.2" stroke="#000" stroke-width="1.3" fill="none"/>
<text x="717" y="682.3" font-size="18" text-anchor="middle" transform="rotate(-90 717 682.3)">0.0</text>
<text x="717" y="627.53" font-size="18" text-anchor="middle" transform="rotate(-90 717 627.53)">0.1</text>
<text x="717" y="572.76" font-size="18" text-anchor="middle" transform="rotate(-90 717 572.76)">0.2</text>
<text x="717" y="517.99" font-size="18" text-anchor="middle" transform="rotate(-90 717 517.99)">0.3</text>
<polyline points="751.5,670.31 775.5,561.59 799.5,475.33 823.5,549.43 847.5,646.76 871.5,646.76 895.5,682.3 919.5,682.3 943.5,682.3 967.5,682.3 991.5,682.3 1015.5,682.3" fill="none" stroke="#00f" stroke-width="1.6" stroke-linejoin="round"/>
<path d="M751.5 664.11L756.87 673.41L746.13 673.41ZM775.5 555.39L780.87 564.69L770.13 564.69ZM799.5 469.13L804.87 478.43L794.13 478.43ZM823.5 543.23L828.87 552.53L818.13 552.53ZM847.5 640.56L852.87 649.86L842.13 649.86ZM871.5 640.56L876.87 649.86L866.13 649.86ZM895.5 676.1L900.87 685.4L890.13 685.4ZM919.5 676.1L924.87 685.4L914.13 685.4ZM943.5 676.1L948.87 685.4L938.13 685.4ZM967.5 676.1L972.87 685.4L962.13 685.4ZM991.5 676.1L996.87 685.4L986.13 685.4ZM1015.5 676.1L1020.87 685.4L1010.13 685.4Z" fill="#00f"/>
<polyline points="751.5,644.51 775.5,542.09 799.5,510.32 823.5,601.79 847.5,633.55 871.5,645.06 895.5,668.06 919.5,677.37 943.5,680.11 967.5,679.56 991.5,677.92 1015.5,675.4" fill="none" stroke="#f00" stroke-width="2.9" stroke-linejoin="round" stroke-linecap="round"/>
<path d="M747.2 640.21L755.8 648.81M747.2 648.81L755.8 640.21M771.2 537.79L779.8 546.39M771.2 546.39L779.8 537.79M795.2 506.02L803.8 514.62M795.2 514.62L803.8 506.02M819.2 597.49L827.8 606.09M819.2 606.09L827.8 597.49M843.2 629.25L851.8 637.85M843.2 637.85L851.8 629.25M867.2 640.76L875.8 649.36M867.2 649.36L875.8 640.76M891.2 663.76L899.8 672.36M891.2 672.36L899.8 663.76M915.2 673.07L923.8 681.67M915.2 681.67L923.8 673.07M939.2 675.81L947.8 684.41M939.2 684.41L947.8 675.81M963.2 675.26L971.8 683.86M963.2 683.86L971.8 675.26M987.2 673.62L995.8 682.22M987.2 682.22L995.8 673.62M1011.2 671.1L1019.8 679.7M1011.2 679.7L1019.8 671.1" fill="none" stroke="#f00" stroke-width="1.5"/>
<polyline points="751.5,642.87 775.5,590.29 799.5,504.3 823.5,587.55 847.5,610.83 871.5,637.94 895.5,671.35 919.5,678.08 943.5,679.89 967.5,678.08 991.5,678.08 1015.5,678.08" fill="none" stroke="#000" stroke-width="1.5" stroke-linejoin="round"/>
<circle cx="751.5" cy="642.87" r="4" fill="#000"/>
<circle cx="775.5" cy="590.29" r="4" fill="#000"/>
<circle cx="799.5" cy="504.3" r="4" fill="#000"/>
<circle cx="823.5" cy="587.55" r="4" fill="#000"/>
<circle cx="847.5" cy="610.83" r="4" fill="#000"/>
<circle cx="871.5" cy="637.94" r="4" fill="#000"/>
<circle cx="895.5" cy="671.35" r="4" fill="#000"/>
<circle cx="919.5" cy="678.08" r="4" fill="#000"/>
<circle cx="943.5" cy="679.89" r="4" fill="#000"/>
<circle cx="967.5" cy="678.08" r="4" fill="#000"/>
<circle cx="991.5" cy="678.08" r="4" fill="#000"/>
<circle cx="1015.5" cy="678.08" r="4" fill="#000"/>
</g>
<g>
<text x="1228.06" y="446.7" font-size="20" font-weight="bold" text-anchor="middle">November birth months</text>
<path d="M1096.3 690.6H1360.3M1096.3 690.6V701.3M1120.3 690.6V701.3M1144.3 690.6V701.3M1168.3 690.6V701.3M1192.3 690.6V701.3M1216.3 690.6V701.3M1240.3 690.6V701.3M1264.3 690.6V701.3M1288.3 690.6V701.3M1312.3 690.6V701.3M1336.3 690.6V701.3M1360.3 690.6V701.3" stroke="#000" stroke-width="1.3" fill="none"/>
<text x="1096.3" y="727.9" font-size="16.5" text-anchor="middle">1</text>
<text x="1120.3" y="727.9" font-size="16.5" text-anchor="middle">2</text>
<text x="1144.3" y="727.9" font-size="16.5" text-anchor="middle">3</text>
<text x="1168.3" y="727.9" font-size="16.5" text-anchor="middle">4</text>
<text x="1192.3" y="727.9" font-size="16.5" text-anchor="middle">5</text>
<text x="1216.3" y="727.9" font-size="16.5" text-anchor="middle">6</text>
<text x="1240.3" y="727.9" font-size="16.5" text-anchor="middle">7</text>
<text x="1264.3" y="727.9" font-size="16.5" text-anchor="middle">8</text>
<text x="1288.3" y="727.9" font-size="16.5" text-anchor="middle">9</text>
<text x="1336.3" y="727.9" font-size="16.5" text-anchor="middle">11</text>
<text x="1228.06" y="754.8" font-size="18" text-anchor="middle">Month <tspan font-style="italic">m</tspan></text>
<path d="M1085.5 682V466.2M1085.5 682H1074.8M1085.5 635.67H1074.8M1085.5 589.34H1074.8M1085.5 543.01H1074.8M1085.5 496.68H1074.8" stroke="#000" stroke-width="1.3" fill="none"/>
<text x="1061.6" y="682" font-size="18" text-anchor="middle" transform="rotate(-90 1061.6 682)">0.0</text>
<text x="1061.6" y="635.67" font-size="18" text-anchor="middle" transform="rotate(-90 1061.6 635.67)">0.1</text>
<text x="1061.6" y="589.34" font-size="18" text-anchor="middle" transform="rotate(-90 1061.6 589.34)">0.2</text>
<text x="1061.6" y="543.01" font-size="18" text-anchor="middle" transform="rotate(-90 1061.6 543.01)">0.3</text>
<text x="1061.6" y="496.68" font-size="18" text-anchor="middle" transform="rotate(-90 1061.6 496.68)">0.4</text>
<polyline points="1096.3,620.23 1120.3,534.7 1144.3,475.22 1168.3,645.25 1192.3,669.8 1216.3,682 1240.3,682 1264.3,682 1288.3,682 1312.3,682 1336.3,682 1360.3,682" fill="none" stroke="#00f" stroke-width="1.6" stroke-linejoin="round"/>
<path d="M1096.3 614.03L1101.67 623.33L1090.93 623.33ZM1120.3 528.5L1125.67 537.8L1114.93 537.8ZM1144.3 469.02L1149.67 478.32L1138.93 478.32ZM1168.3 639.05L1173.67 648.35L1162.93 648.35ZM1192.3 663.6L1197.67 672.9L1186.93 672.9ZM1216.3 675.8L1221.67 685.1L1210.93 685.1ZM1240.3 675.8L1245.67 685.1L1234.93 685.1ZM1264.3 675.8L1269.67 685.1L1258.93 685.1ZM1288.3 675.8L1293.67 685.1L1282.93 685.1ZM1312.3 675.8L1317.67 685.1L1306.93 685.1ZM1336.3 675.8L1341.67 685.1L1330.93 685.1ZM1360.3 675.8L1365.67 685.1L1354.93 685.1Z" fill="#00f"/>
<polyline points="1096.3,618.99 1120.3,525.08 1144.3,556.91 1168.3,636.6 1192.3,661.15 1216.3,670.19 1240.3,677.83 1264.3,679.68 1288.3,679.22 1312.3,676.3 1336.3,672.27 1360.3,667.17" fill="none" stroke="#f00" stroke-width="2.9" stroke-linejoin="round" stroke-linecap="round"/>
<path d="M1092 614.69L1100.6 623.29M1092 623.29L1100.6 614.69M1116 520.78L1124.6 529.38M1116 529.38L1124.6 520.78M1140 552.61L1148.6 561.21M1140 561.21L1148.6 552.61M1164 632.3L1172.6 640.9M1164 640.9L1172.6 632.3M1188 656.85L1196.6 665.45M1188 665.45L1196.6 656.85M1212 665.89L1220.6 674.49M1212 674.49L1220.6 665.89M1236 673.53L1244.6 682.13M1236 682.13L1244.6 673.53M1260 675.38L1268.6 683.98M1260 683.98L1268.6 675.38M1284 674.92L1292.6 683.52M1284 683.52L1292.6 674.92M1308 672L1316.6 680.6M1308 680.6L1316.6 672M1332 667.97L1340.6 676.57M1332 676.57L1340.6 667.97M1356 662.87L1364.6 671.47M1356 671.47L1364.6 662.87" fill="none" stroke="#f00" stroke-width="1.5"/>
<polyline points="1096.3,611.58 1120.3,570.34 1144.3,541.16 1168.3,626.87 1192.3,648.87 1216.3,665.88 1240.3,678.39 1264.3,679.92 1288.3,677.83 1312.3,673.2 1336.3,673.2 1360.3,671.99" fill="none" stroke="#000" stroke-width="1.5" stroke-linejoin="round"/>
<circle cx="1096.3" cy="611.58" r="4" fill="#000"/>
<circle cx="1120.3" cy="570.34" r="4" fill="#000"/>
<circle cx="1144.3" cy="541.16" r="4" fill="#000"/>
<circle cx="1168.3" cy="626.87" r="4" fill="#000"/>
<circle cx="1192.3" cy="648.87" r="4" fill="#000"/>
<circle cx="1216.3" cy="665.88" r="4" fill="#000"/>
<circle cx="1240.3" cy="678.39" r="4" fill="#000"/>
<circle cx="1264.3" cy="679.92" r="4" fill="#000"/>
<circle cx="1288.3" cy="677.83" r="4" fill="#000"/>
<circle cx="1312.3" cy="673.2" r="4" fill="#000"/>
<circle cx="1336.3" cy="673.2" r="4" fill="#000"/>
<circle cx="1360.3" cy="671.99" r="4" fill="#000"/>
</g>
<g>
<text x="1565.36" y="446.7" font-size="20" font-weight="bold" text-anchor="middle">December birth months</text>
<path d="M1432.8 690.6H1696.8M1432.8 690.6V701.3M1456.8 690.6V701.3M1480.8 690.6V701.3M1504.8 690.6V701.3M1528.8 690.6V701.3M1552.8 690.6V701.3M1576.8 690.6V701.3M1600.8 690.6V701.3M1624.8 690.6V701.3M1648.8 690.6V701.3M1672.8 690.6V701.3M1696.8 690.6V701.3" stroke="#000" stroke-width="1.3" fill="none"/>
<text x="1432.8" y="727.9" font-size="16.5" text-anchor="middle">1</text>
<text x="1456.8" y="727.9" font-size="16.5" text-anchor="middle">2</text>
<text x="1480.8" y="727.9" font-size="16.5" text-anchor="middle">3</text>
<text x="1504.8" y="727.9" font-size="16.5" text-anchor="middle">4</text>
<text x="1528.8" y="727.9" font-size="16.5" text-anchor="middle">5</text>
<text x="1552.8" y="727.9" font-size="16.5" text-anchor="middle">6</text>
<text x="1576.8" y="727.9" font-size="16.5" text-anchor="middle">7</text>
<text x="1600.8" y="727.9" font-size="16.5" text-anchor="middle">8</text>
<text x="1624.8" y="727.9" font-size="16.5" text-anchor="middle">9</text>
<text x="1672.8" y="727.9" font-size="16.5" text-anchor="middle">11</text>
<text x="1565.36" y="754.8" font-size="18" text-anchor="middle">Month <tspan font-style="italic">m</tspan></text>
<path d="M1422.8 682V473.54M1422.8 682H1412.1M1422.8 652.22H1412.1M1422.8 622.44H1412.1M1422.8 592.66H1412.1M1422.8 562.88H1412.1M1422.8 533.1H1412.1M1422.8 503.32H1412.1M1422.8 473.54H1412.1" stroke="#000" stroke-width="1.3" fill="none"/>
<text x="1398.9" y="682" font-size="18" text-anchor="middle" transform="rotate(-90 1398.9 682)">0.00</text>
<text x="1398.9" y="622.44" font-size="18" text-anchor="middle" transform="rotate(-90 1398.9 622.44)">0.10</text>
<text x="1398.9" y="562.88" font-size="18" text-anchor="middle" transform="rotate(-90 1398.9 562.88)">0.20</text>
<text x="1398.9" y="503.32" font-size="18" text-anchor="middle" transform="rotate(-90 1398.9 503.32)">0.30</text>
<polyline points="1432.8,553.26 1456.8,500.85 1480.8,475.24 1504.8,605.08 1528.8,682 1552.8,682 1576.8,682 1600.8,682 1624.8,682 1648.8,682 1672.8,682 1696.8,682" fill="none" stroke="#00f" stroke-width="1.6" stroke-linejoin="round"/>
<path d="M1432.8 547.06L1438.17 556.36L1427.43 556.36ZM1456.8 494.65L1462.17 503.95L1451.43 503.95ZM1480.8 469.04L1486.17 478.34L1475.43 478.34ZM1504.8 598.88L1510.17 608.18L1499.43 608.18ZM1528.8 675.8L1534.17 685.1L1523.43 685.1ZM1552.8 675.8L1558.17 685.1L1547.43 685.1ZM1576.8 675.8L1582.17 685.1L1571.43 685.1ZM1600.8 675.8L1606.17 685.1L1595.43 685.1ZM1624.8 675.8L1630.17 685.1L1619.43 685.1ZM1648.8 675.8L1654.17 685.1L1643.43 685.1ZM1672.8 675.8L1678.17 685.1L1667.43 685.1ZM1696.8 675.8L1702.17 685.1L1691.43 685.1Z" fill="#00f"/>
<polyline points="1432.8,575.69 1456.8,499.75 1480.8,572.11 1504.8,651.33 1528.8,671.28 1552.8,676.28 1576.8,677.83 1600.8,675.45 1624.8,668 1648.8,653.71 1672.8,636.14 1696.8,631.2" fill="none" stroke="#f00" stroke-width="2.9" stroke-linejoin="round" stroke-linecap="round"/>
<path d="M1428.5 571.39L1437.1 579.99M1428.5 579.99L1437.1 571.39M1452.5 495.45L1461.1 504.05M1452.5 504.05L1461.1 495.45M1476.5 567.81L1485.1 576.41M1476.5 576.41L1485.1 567.81M1500.5 647.03L1509.1 655.63M1500.5 655.63L1509.1 647.03M1524.5 666.98L1533.1 675.58M1524.5 675.58L1533.1 666.98M1548.5 671.98L1557.1 680.58M1548.5 680.58L1557.1 671.98M1572.5 673.53L1581.1 682.13M1572.5 682.13L1581.1 673.53M1596.5 671.15L1605.1 679.75M1596.5 679.75L1605.1 671.15M1620.5 663.7L1629.1 672.3M1620.5 672.3L1629.1 663.7M1644.5 649.41L1653.1 658.01M1644.5 658.01L1653.1 649.41M1668.5 631.84L1677.1 640.44M1668.5 640.44L1677.1 631.84M1692.5 626.9L1701.1 635.5M1692.5 635.5L1701.1 626.9" fill="none" stroke="#f00" stroke-width="1.5"/>
<polyline points="1432.8,551.56 1456.8,546.8 1480.8,557.52 1504.8,644 1528.8,664.13 1552.8,674.38 1576.8,678.43 1600.8,674.38 1624.8,663.54 1648.8,638.82 1672.8,644 1696.8,648.88" fill="none" stroke="#000" stroke-width="1.5" stroke-linejoin="round"/>
<circle cx="1432.8" cy="551.56" r="4" fill="#000"/>
<circle cx="1456.8" cy="546.8" r="4" fill="#000"/>
<circle cx="1480.8" cy="557.52" r="4" fill="#000"/>
<circle cx="1504.8" cy="644" r="4" fill="#000"/>
<circle cx="1528.8" cy="664.13" r="4" fill="#000"/>
<circle cx="1552.8" cy="674.38" r="4" fill="#000"/>
<circle cx="1576.8" cy="678.43" r="4" fill="#000"/>
<circle cx="1600.8" cy="674.38" r="4" fill="#000"/>
<circle cx="1624.8" cy="663.54" r="4" fill="#000"/>
<circle cx="1648.8" cy="638.82" r="4" fill="#000"/>
<circle cx="1672.8" cy="644" r="4" fill="#000"/>
<circle cx="1696.8" cy="648.88" r="4" fill="#000"/>
</g>
<text x="656.3" y="187.8" font-size="21" text-anchor="middle" transform="rotate(-90 656.3 187.8)">Probability of first RSV</text>
<text x="680.9" y="187.8" font-size="21" text-anchor="middle" transform="rotate(-90 680.9 187.8)">infection in month <tspan font-style="italic">m</tspan></text>
<text x="656.3" y="578.7" font-size="21" text-anchor="middle" transform="rotate(-90 656.3 578.7)">Probability of first RSV</text>
<text x="680.9" y="578.7" font-size="21" text-anchor="middle" transform="rotate(-90 680.9 578.7)">infection in month <tspan font-style="italic">m</tspan></text>
<rect x="740.8" y="76.5" width="113.8" height="42.9" fill="#fff" stroke="#000" stroke-width="1.3"/>
<line x1="742.8" y1="87.2" x2="759.9" y2="87.2" stroke="#000" stroke-width="1.12"/>
<circle cx="751.2" cy="87.2" r="1.85" fill="#000"/>
<text x="767.2" y="90.3" font-size="8.6">Fit w/ PRIMA</text>
<line x1="742.8" y1="98" x2="759.9" y2="98" stroke="#f00" stroke-width="1.12"/>
<path d="M748.79 95.59L753.61 100.41M748.79 100.41L753.61 95.59" stroke="#f00" stroke-width="1.03" fill="none"/>
<text x="767.2" y="101.1" font-size="8.6">Fit w/ INSPIRE</text>
<line x1="742.8" y1="108.9" x2="759.9" y2="108.9" stroke="#00f" stroke-width="1.12"/>
<path d="M751.2 106.06L754.03 110.96L748.37 110.96Z" fill="#00f"/>
<text x="767.2" y="112" font-size="8.6">Observed in INSPIRE</text>
<rect x="893.4" y="467.5" width="132.8" height="49.2" fill="#fff" stroke="#000" stroke-width="1.3"/>
<line x1="896" y1="479.5" x2="915.6" y2="479.5" stroke="#000" stroke-width="1.3"/>
<circle cx="905.7" cy="479.5" r="2.15" fill="#000"/>
<text x="924.2" y="483.1" font-size="10">Fit w/ PRIMA</text>
<line x1="896" y1="491.9" x2="915.6" y2="491.9" stroke="#f00" stroke-width="1.3"/>
<path d="M902.9 489.1L908.5 494.7M902.9 494.7L908.5 489.1" stroke="#f00" stroke-width="1.2" fill="none"/>
<text x="924.2" y="495.5" font-size="10">Fit w/ INSPIRE</text>
<line x1="896" y1="504.3" x2="915.6" y2="504.3" stroke="#00f" stroke-width="1.3"/>
<path d="M905.7 501L908.99 506.7L902.41 506.7Z" fill="#00f"/>
<text x="924.2" y="507.9" font-size="10">Observed in INSPIRE</text>
<g>
<path d="M1.3 569.8H538.9V726.6H1.3ZM200.1 569.8V726.6M1.3 642.3H538.9M1.3 684.5H538.9" stroke="#000" stroke-width="1.65" fill="none"/>
<g font-weight="bold" font-size="24">
<text x="100.8" y="598.8" text-anchor="middle" textLength="175" lengthAdjust="spacingAndGlyphs">Cohort used to</text>
<text x="17.2" y="630.3" textLength="103.3" lengthAdjust="spacingAndGlyphs">estimate</text>
<text y="630.5" style="font-family:'Liberation Serif', serif" font-size="29"><tspan x="127.2" font-style="italic">w</tspan><tspan x="148.3" y="628.8" font-weight="normal" font-size="28">(</tspan><tspan x="158.8" y="630.5" font-style="italic">a</tspan><tspan x="174" y="628.8" font-weight="normal" font-size="28">)</tspan></text>
<text x="369.8" y="598.8" text-anchor="middle" textLength="289.3" lengthAdjust="spacingAndGlyphs">Mean absolute deviation</text>
<text x="369.7" y="629.9" text-anchor="middle" textLength="316.3" lengthAdjust="spacingAndGlyphs">from observed frequencies</text>
</g>
<g font-size="24" text-anchor="middle">
<text x="101.1" y="671.6" textLength="72.9" lengthAdjust="spacingAndGlyphs">PRIMA</text>
<text x="101.1" y="714" textLength="91.7" lengthAdjust="spacingAndGlyphs">INSPIRE</text>
<text x="368.8" y="671.6">0.031</text>
<text x="369.5" y="713.3">0.030</text>
</g>
</g>
</svg>
</body></html>
